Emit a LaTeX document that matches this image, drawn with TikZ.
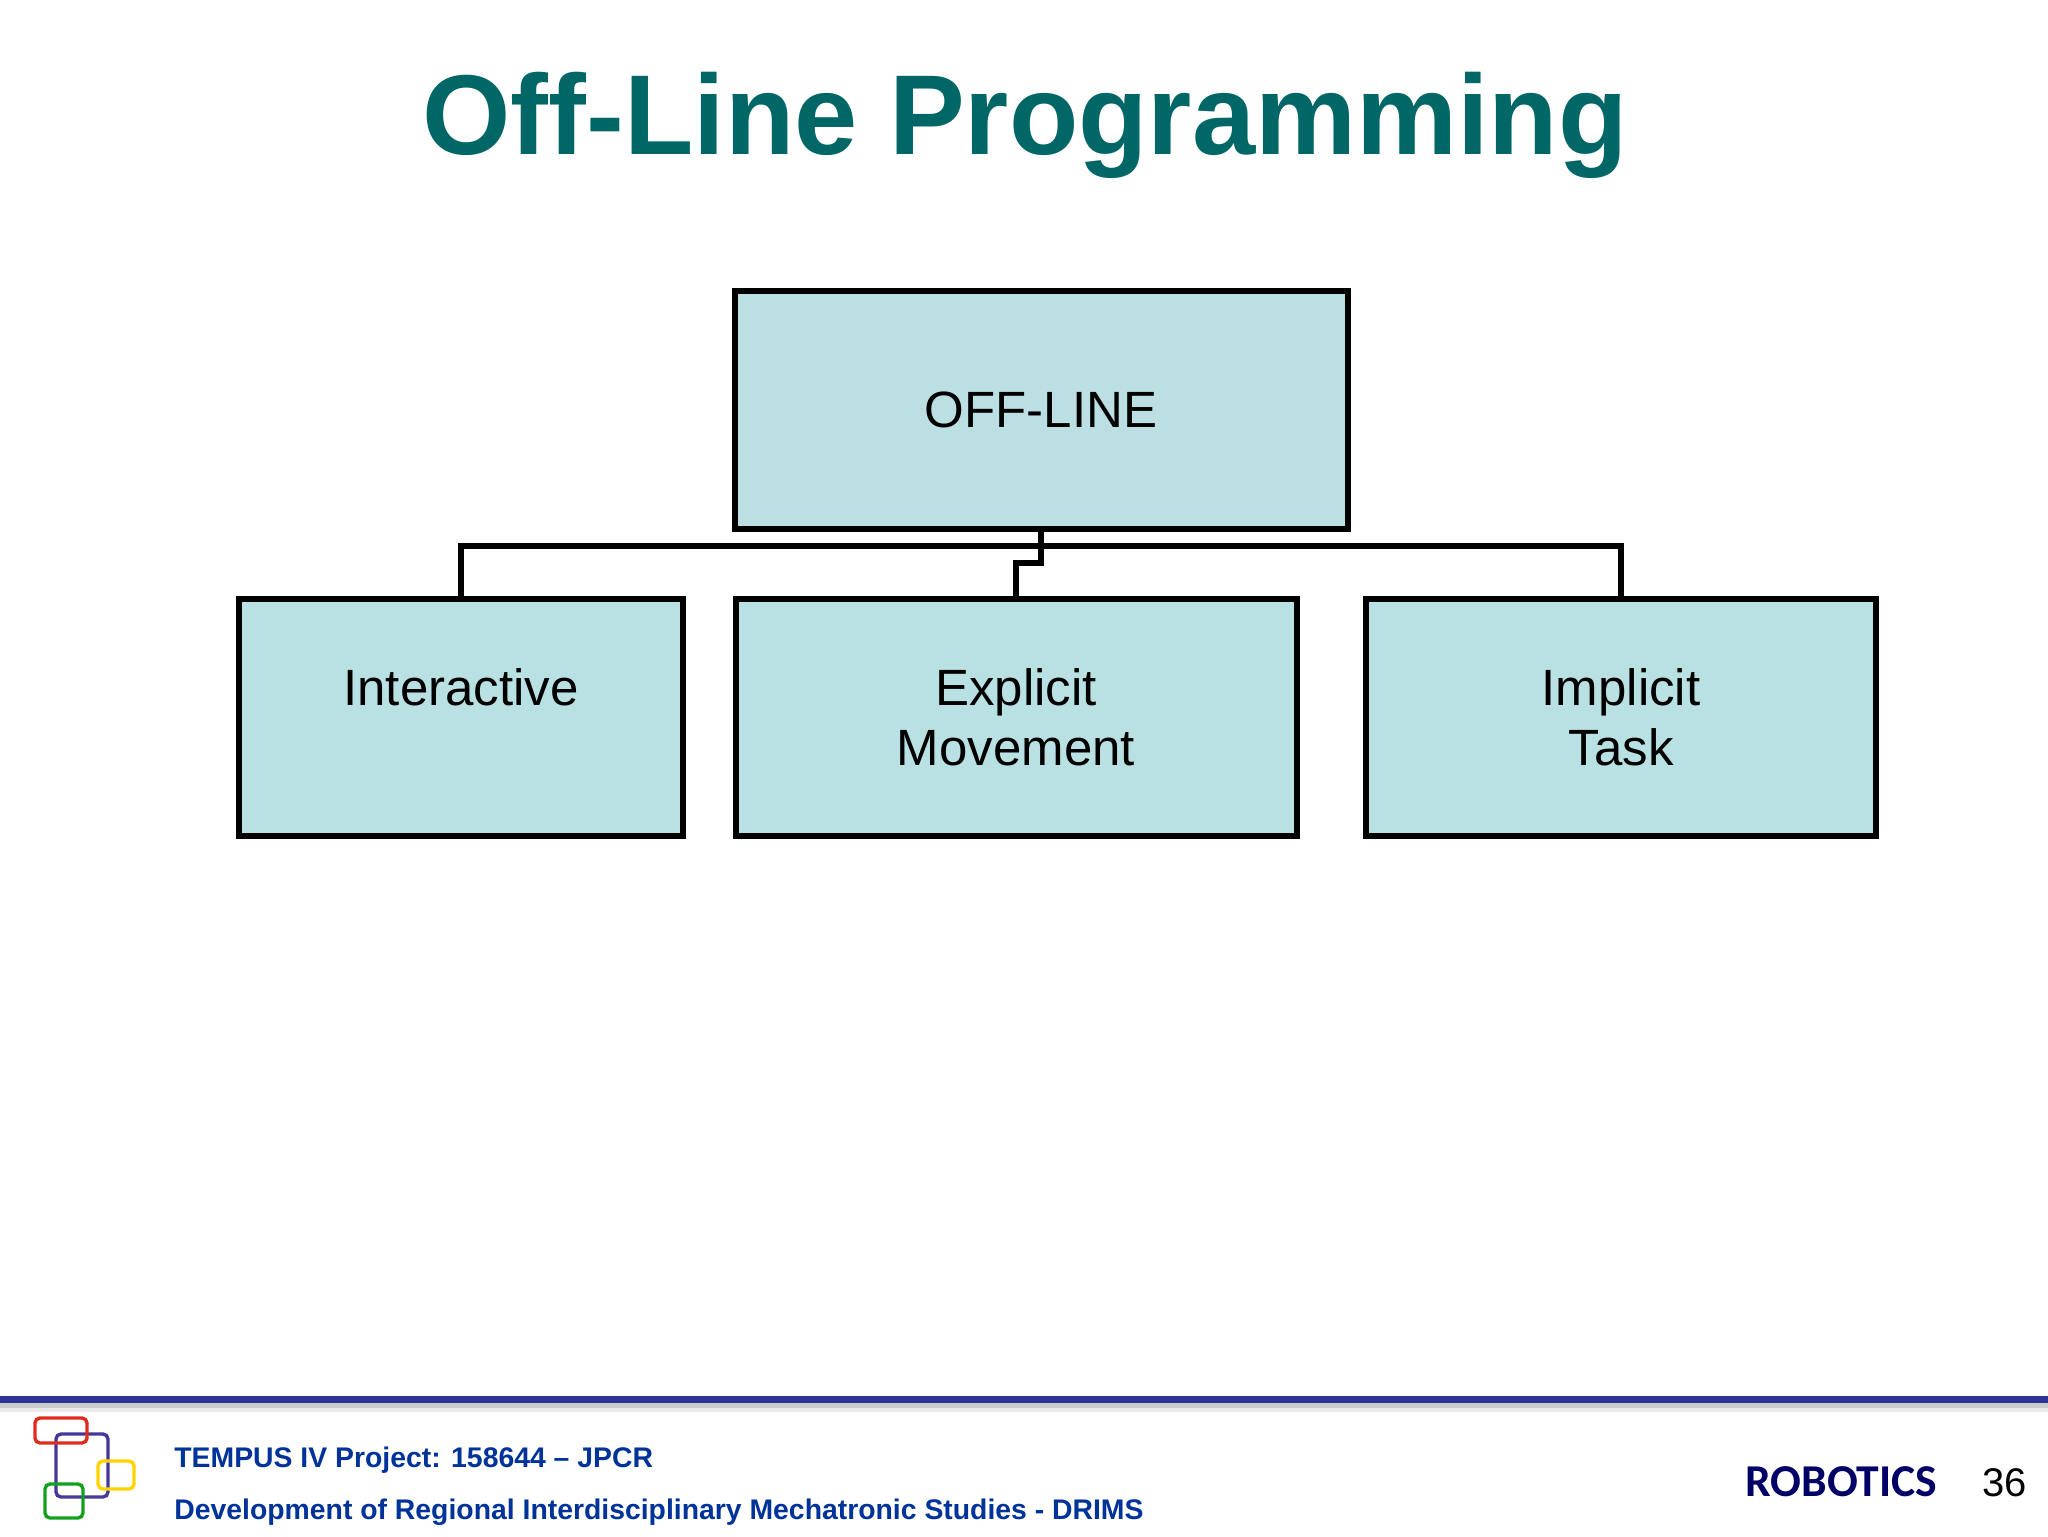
\documentclass[tikz,border=0pt]{standalone}
\usepackage{fontspec}
\setmainfont{Liberation Sans}
\newfontfamily\robofont{Carlito}
\definecolor{deepteal}{RGB}{0, 102, 102}
\definecolor{paleaqua}{RGB}{188, 223, 227}
\definecolor{lowaqua}{RGB}{185, 225, 227}
\definecolor{barblue}{RGB}{46, 52, 148}
\definecolor{footblue}{RGB}{0, 51, 153}
\definecolor{navyink}{RGB}{0, 0, 102}
\definecolor{logored}{RGB}{222, 45, 30}
\definecolor{logoviolet}{RGB}{68, 56, 155}
\definecolor{logoyellow}{RGB}{255, 212, 0}
\definecolor{logogreen}{RGB}{20, 160, 30}
\tikzset{
    stagebox/.style={draw=black, fill=paleaqua, line width=3pt, outer sep=0pt, inner sep=0pt, align=center,
                     font=\fontsize{25.5}{30.2}\selectfont, minimum height=118.8pt},
    wire/.style={draw=black, line width=3pt},
    logobox/.style={line width=1.7pt, rounded corners=2.5pt},
    footline/.style={anchor=base west, inner sep=0pt, text=footblue, font=\fontsize{14.18}{17}\selectfont\bfseries}
}

\begin{document}
\begin{tikzpicture}[x=0.5pt, y=-0.5pt]
            \useasboundingbox (0, 0) rectangle (2048, 1536);
            \node[anchor=base, inner sep=0pt, text=deepteal, font=\fontsize{56.8}{60}\selectfont\bfseries] (title) at (1025, 155) {Off-Line Programming};

            \node[stagebox, minimum width=306.5pt]                 (offline)  at (1041, 410) {OFF-LINE};
            \node[stagebox, fill=lowaqua, minimum width=222pt]     (interact) at ( 461, 717.5) {Interactive\\ ~};
            \node[stagebox, fill=lowaqua, minimum width=280.5pt]   (explicit) at (1016, 717.5) {Explicit\\ Movement};
            \node[stagebox, fill=lowaqua, minimum width=255pt]     (implicit) at (1621, 717.5) {Implicit\\ Task};

            \coordinate (bus) at (1041, 546);
            \coordinate (jog) at (1041, 563);
            \draw[wire] (interact.north) |- (bus) -| (implicit.north);
            \draw[wire] (offline.south) -- (jog) -| (explicit.north);

            \fill[black!8]  (0, 1403) rectangle (2048, 1412);
            \fill[black!20] (0, 1403) rectangle (2048, 1408);
            \fill[barblue]  (0, 1396) rectangle (2048, 1403);

            \draw[logobox, logoviolet] ( 56, 1434) rectangle (108, 1497);
            \draw[logobox, logored]    ( 35, 1418) rectangle ( 87, 1443);
            \draw[logobox, logoyellow] ( 98, 1461) rectangle (134, 1489);
            \draw[logobox, logogreen]  ( 45, 1484) rectangle ( 83, 1518);

            \node[footline] (project) at (174, 1467) {TEMPUS IV Project: 158644 – JPCR};
            \node[footline] (drims)   at (174, 1519) {Development of Regional Interdisciplinary Mechatronic Studies - DRIMS};
            \node[anchor=base west, inner sep=0pt, text=navyink, font=\fontsize{22.8}{26}\selectfont\robofont\bfseries] (course) at (1745, 1496) {ROBOTICS};
            \node[anchor=base east, inner sep=0pt, font=\fontsize{20}{24}\selectfont] (pagenum) at (2027, 1496) {36};
        \end{tikzpicture}
\end{document}
